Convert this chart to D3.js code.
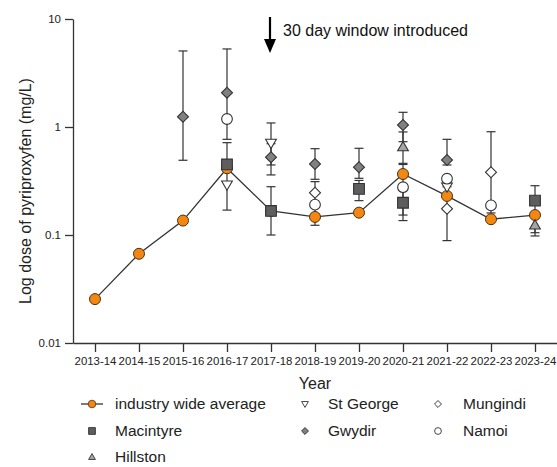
<!DOCTYPE html>
<meta charset="utf-8">
<style>
body { margin: 0; background: #fff; }
svg { font-family: "Liberation Sans", Arial, sans-serif; }
.axis path, .axis line { stroke: #333; stroke-width: 1.3px; }
.axis text { fill: #222; }
</style>
<svg width="557" height="467"></svg>
<script src="https://d3js.org/d3.v7.min.js"></script>
<script>

// categories
let years = ["2013-14","2014-15","2015-16","2016-17","2017-18","2018-19","2019-20","2020-21","2021-22","2022-23","2023-24"];
let yTicks = [0.01, 0.1, 1, 10];
let yTickLabels = ["0.01", "0.1", "1", "10"];

// industry wide average
let average = [0.0255, 0.067, 0.136, 0.415, 0.167, 0.147, 0.161, 0.367, 0.230, 0.140, 0.153];

// sites (null = no data)
let macintyre   = [null, null, null, 0.45, 0.167, null, 0.267, 0.199, null, null, 0.208];
let macintyreLo = [null, null, null, 0.17, 0.10, null, 0.208, 0.136, null, null, 0.105];
let macintyreHi = [null, null, null, 0.716, 0.28, null, 0.32, 0.28, null, null, 0.286];

let stGeorge   = [null, null, null, 0.29, 0.706, null, null, null, 0.278, null, null];
let stGeorgeLo = [null, null, null, null, 0.445, null, null, null, null, null, null];
let stGeorgeHi = [null, null, null, null, 1.09, null, null, null, null, null, null];

let gwydir   = [null, null, 1.245, 2.08, 0.524, 0.454, 0.424, 1.044, 0.495, null, null];
let gwydirLo = [null, null, 0.492, 0.769, 0.36, 0.328, 0.335, 0.731, 0.445, null, null];
let gwydirHi = [null, null, 5.06, 5.28, 0.70, 0.63, 0.635, 1.368, 0.769, null, null];

let mungindi   = [null, null, null, null, null, 0.246, null, null, 0.175, 0.381, null];
let mungindiLo = [null, null, null, null, null, null, null, null, 0.0887, 0.16, null];
let mungindiHi = [null, null, null, null, null, null, null, null, 0.28, 0.904, null];

let namoi   = [null, null, null, 1.186, null, 0.191, null, 0.277, 0.332, 0.188, null];
let namoiLo = [null, null, null, null, null, 0.123, null, 0.153, null, null, null];
let namoiHi = [null, null, null, null, null, 0.312, null, 0.45, null, null, null];

let hillston   = [null, null, null, null, null, null, null, 0.657, null, null, 0.124];
let hillstonLo = [null, null, null, null, null, null, null, 0.461, null, null, 0.098];
let hillstonHi = [null, null, null, null, null, null, null, 0.9, null, null, 0.16];

let svg = d3.select("svg");

let x = d3.scalePoint().domain(years).range([73, 557]).padding(0.5);
let y = d3.scaleLog().domain([0.01, 10]).range([343, 19]);

// axes
svg.append("g").attr("class", "axis")
  .attr("transform", "translate(0,343)")
  .call(d3.axisBottom(x).tickSize(9).tickSizeOuter(0).tickPadding(5))
  .selectAll("text").style("font-size", "11.4px");

svg.append("g").attr("class", "axis")
  .attr("transform", "translate(73,0)")
  .call(d3.axisLeft(y).tickValues(yTicks).tickFormat((d, i) => yTickLabels[i]).tickSize(8).tickSizeOuter(0).tickPadding(4))
  .selectAll("text").style("font-size", "11.5px");

svg.append("text")
  .attr("transform", "translate(25,191) rotate(-90)")
  .attr("text-anchor", "middle").attr("dominant-baseline", "central")
  .style("font-size", "16px").attr("fill", "#222")
  .text("Log dose of pyriproxyfen (mg/L)");

svg.append("text")
  .attr("x", 315).attr("y", 389)
  .attr("text-anchor", "middle")
  .style("font-size", "16px").attr("fill", "#222")
  .text("Year");

// annotation arrow
let arrowX = x("2017-18") - 1;
svg.append("line").attr("x1", arrowX).attr("x2", arrowX).attr("y1", 17).attr("y2", 42)
  .attr("stroke", "#000").attr("stroke-width", 2.2);
svg.append("path")
  .attr("d", `M${arrowX - 6},39 L${arrowX + 6},39 L${arrowX},53 Z`)
  .attr("fill", "#000");
svg.append("text")
  .attr("x", 283).attr("y", 36)
  .style("font-size", "16px").attr("fill", "#111")
  .text("30 day window introduced");

// series definitions
let series = [
  {name: "Macintyre", v: macintyre, lo: macintyreLo, hi: macintyreHi, sym: d3.symbolSquare, size: 115, rot: 0, fill: "#5e5e5e"},
  {name: "St George", v: stGeorge, lo: stGeorgeLo, hi: stGeorgeHi, sym: d3.symbolTriangle, size: 50, rot: 180, fill: "#fff"},
  {name: "Gwydir", v: gwydir, lo: gwydirLo, hi: gwydirHi, sym: d3.symbolSquare, size: 60, rot: 45, fill: "#808080"},
  {name: "Mungindi", v: mungindi, lo: mungindiLo, hi: mungindiHi, sym: d3.symbolSquare, size: 60, rot: 45, fill: "#fff"},
  {name: "Namoi", v: namoi, lo: namoiLo, hi: namoiHi, sym: d3.symbolCircle, size: 90, rot: 0, fill: "#fff"},
  {name: "Hillston", v: hillston, lo: hillstonLo, hi: hillstonHi, sym: d3.symbolTriangle, size: 50, rot: 0, fill: "#a6a6a6"}
];

// error bars
let bars = [];
series.forEach(s => {
  years.forEach((yr, i) => {
    if (s.v[i] == null) return;
    if (s.lo[i] != null) bars.push({yr: yr, a: s.v[i], b: s.lo[i]});
    if (s.hi[i] != null) bars.push({yr: yr, a: s.v[i], b: s.hi[i]});
  });
});
let eb = svg.append("g").attr("stroke", "#333").attr("stroke-width", 1.2);
eb.selectAll(".v").data(bars).enter().append("line")
  .attr("x1", d => x(d.yr)).attr("x2", d => x(d.yr))
  .attr("y1", d => y(d.a)).attr("y2", d => y(d.b));
eb.selectAll(".c").data(bars).enter().append("line")
  .attr("x1", d => x(d.yr) - 4.5).attr("x2", d => x(d.yr) + 4.5)
  .attr("y1", d => y(d.b)).attr("y2", d => y(d.b));

// industry average line + points
let avgData = years.map((yr, i) => ({yr: yr, v: average[i]}));
svg.append("path").datum(avgData)
  .attr("fill", "none").attr("stroke", "#333").attr("stroke-width", 1.3)
  .attr("d", d3.line().x(d => x(d.yr)).y(d => y(d.v)));
svg.append("g").selectAll("circle").data(avgData).enter().append("circle")
  .attr("cx", d => x(d.yr)).attr("cy", d => y(d.v)).attr("r", 5.5)
  .attr("fill", "#f3870f").attr("stroke", "#4a3318").attr("stroke-width", 1);

// site markers
series.forEach(s => {
  let pts = years.map((yr, i) => ({yr: yr, v: s.v[i]})).filter(d => d.v != null);
  svg.append("g").selectAll("path").data(pts).enter().append("path")
    .attr("d", d3.symbol().type(s.sym).size(s.size))
    .attr("transform", d => `translate(${x(d.yr)},${y(d.v) + (s.sym === d3.symbolTriangle ? (s.rot ? -1 : 1) : 0)}) rotate(${s.rot})`)
    .attr("fill", s.fill).attr("stroke", "#333").attr("stroke-width", 1.1);
});

// legend
let leg = svg.append("g").style("font-size", "15.5px");
let legendItems = [
  {name: "industry wide average", col: 0, row: 0, avg: true},
  {name: "St George", col: 1, row: 0, s: series[1]},
  {name: "Mungindi", col: 2, row: 0, s: series[3]},
  {name: "Macintyre", col: 0, row: 1, s: series[0]},
  {name: "Gwydir", col: 1, row: 1, s: series[2]},
  {name: "Namoi", col: 2, row: 1, s: series[4]},
  {name: "Hillston", col: 0, row: 2, s: series[5]}
];
let colSym = [92, 305, 438], colText = [115, 328, 463], rowY = [404, 431, 457];
legendItems.forEach(it => {
  let cx = colSym[it.col], cy = rowY[it.row];
  if (it.avg) {
    leg.append("line").attr("x1", cx - 11).attr("x2", cx + 11).attr("y1", cy).attr("y2", cy)
      .attr("stroke", "#333").attr("stroke-width", 1.3);
    leg.append("circle").attr("cx", cx).attr("cy", cy).attr("r", 3.8)
      .attr("fill", "#f3870f").attr("stroke", "#4a3318").attr("stroke-width", 0.8);
  } else {
    let s = it.s;
    leg.append("path")
      .attr("d", d3.symbol().type(s.sym).size(s.size * 0.4))
      .attr("transform", `translate(${cx},${cy + (s.sym === d3.symbolTriangle ? (s.rot ? -0.5 : 0.5) : 0)}) rotate(${s.rot})`)
      .attr("fill", s.fill).attr("stroke", "#333").attr("stroke-width", 0.9);
  }
  leg.append("text").attr("x", colText[it.col]).attr("y", cy).attr("dy", "0.35em")
    .attr("fill", "#222").text(it.name);
});

</script>
